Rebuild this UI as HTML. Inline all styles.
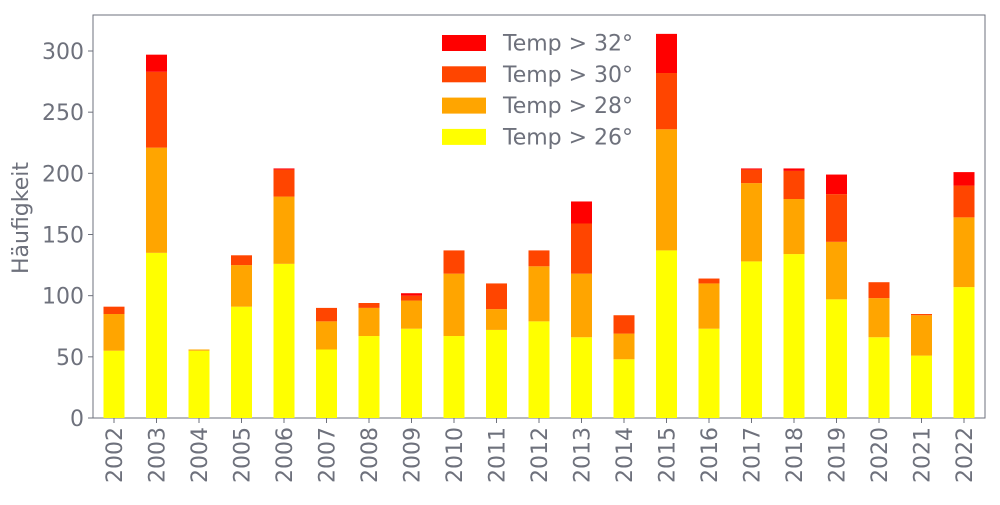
<!DOCTYPE html>
<html><head><meta charset="utf-8"><style>
body{margin:0;background:#fff;width:1000px;height:500px;overflow:hidden}
svg text{font-family:"DejaVu Sans","Liberation Sans",sans-serif;fill:#6e717c}
</style></head><body>
<svg id="chart" width="1000" height="500">
<rect x="93" y="15" width="892" height="403" fill="none" stroke="#6e717c" stroke-width="1"/>
<g id="bars"></g><g id="axes"></g>
<text transform="translate(28,218) rotate(-90)" text-anchor="middle" font-size="22">Häufigkeit</text>
<g id="legend"></g>
</svg>
<script>
const years=[2002,2003,2004,2005,2006,2007,2008,2009,2010,2011,2012,2013,2014,2015,2016,2017,2018,2019,2020,2021,2022];
const t26=[55,135,55,91,126,56,67,73,67,72,79,66,48,137,73,128,134,97,66,51,107];
const t28=[30,86,1,34,55,23,23,23,51,17,45,52,21,99,37,64,45,47,32,33,57];
const t30=[6,62,0,8,22,11,4,4,19,21,13,41,15,46,4,11,23,39,13,1,26];
const t32=[0,14,0,0,1,0,0,2,0,0,0,18,0,32,0,1,2,16,0,0,11];
const yTicks=[0,50,100,150,200,250,300];
const seriesNames=["Temp > 32°","Temp > 30°","Temp > 28°","Temp > 26°"];
const colors=["#ff0000","#ff4500","#ffa500","#ffff00"];
const NS="http://www.w3.org/2000/svg";
const x0=93,yBase=418,yScale=367/300;
const step=42.5;
const xc=i=>114+step*i;
const y=v=>yBase-v*yScale;
function mk(tag,attrs,parent){const e=document.createElementNS(NS,tag);for(const k in attrs)e.setAttribute(k,attrs[k]);parent.appendChild(e);return e;}
const bars=document.getElementById('bars'),axes=document.getElementById('axes'),leg=document.getElementById('legend');
const stack=[t26,t28,t30,t32],sc=["#ffff00","#ffa500","#ff4500","#ff0000"],sn=["t26","t28","t30","t32"];
const bw=21;
years.forEach((yr,i)=>{
  let acc=0;
  stack.forEach((s,k)=>{
    const v=s[i];
    const r=mk('rect',{x:xc(i)-bw/2,y:y(acc+v),width:bw,height:v*yScale,fill:sc[k]},bars);
    
    
    acc+=v;
  });
  const tk=mk('line',{x1:xc(i),x2:xc(i),y1:yBase,y2:yBase+5,stroke:'#6e717c'},axes);
  
  
  const t=mk('text',{transform:`translate(${xc(i)+8},${yBase+9}) rotate(-90)`,'text-anchor':'end','font-size':'22'},axes);
  t.textContent=yr;
  
  
});
yTicks.forEach(v=>{
  const tk=mk('line',{x1:x0-5,x2:x0,y1:y(v),y2:y(v),stroke:'#6e717c'},axes);
  
  
  const t=mk('text',{x:x0-9,y:y(v)+8,'text-anchor':'end','font-size':'22'},axes);
  t.textContent=v;
  
  
});
seriesNames.forEach((n,k)=>{
  const yy=35+k*31.3;
  const r=mk('rect',{x:442,y:yy,width:44,height:16,fill:colors[k]},leg);
  
  
  const t=mk('text',{x:503,y:yy+15.5,'font-size':'22'},leg);
  t.textContent=n;
  
  
});
</script>
</body></html>
